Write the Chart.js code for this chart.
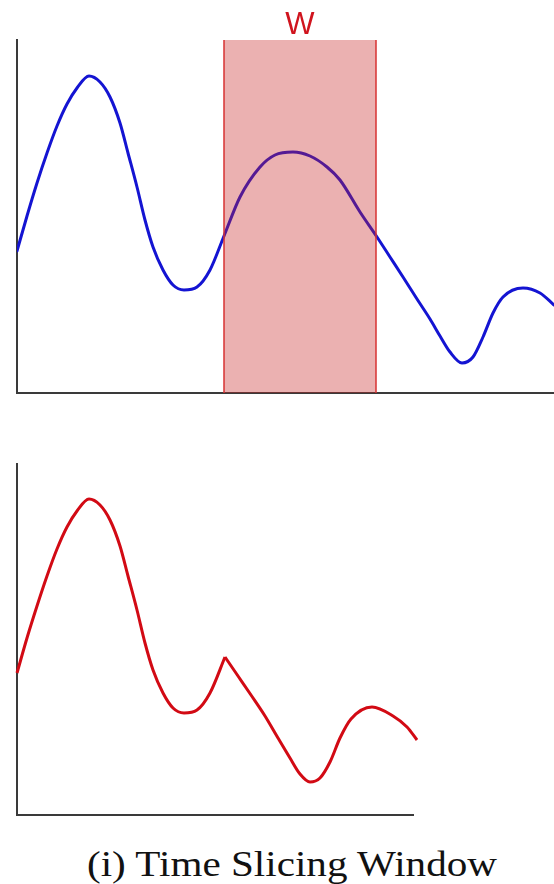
<!DOCTYPE html>
<html>
<head>
<meta charset="utf-8">
<script src="https://cdn.jsdelivr.net/npm/chart.js@4/dist/chart.umd.min.js"></script>
<style>
  html, body { margin: 0; padding: 0; background: #fff; }
  #wrap { position: relative; width: 554px; height: 884px; overflow: hidden; }
  #topBox { position: absolute; left: 0; top: 0; width: 554px; height: 400px; }
  #botBox { position: absolute; left: 0; top: 424px; width: 554px; height: 400px; }
  #caption { position: absolute; left: 87px; top: 847px; font-family: "Liberation Serif", serif;
             font-size: 35px; line-height: 35px; color: #111; white-space: nowrap;
             transform-origin: 0 0; display: inline-block; }
</style>
</head>
<body>
<div id="wrap">
  <div id="topBox"><canvas id="topChart" width="554" height="400"></canvas></div>
  <div id="botBox"><canvas id="botChart" width="554" height="400"></canvas></div>
  <span id="caption">(i) Time Slicing Window</span>
</div>
<script>
// ---- data ----
// original series (time, value)
const originalTime  = [0, 10, 20, 30, 40, 50, 60, 72, 83, 93, 103, 111, 120, 128, 136, 146, 156, 167, 180, 193, 207, 223, 243, 258, 276, 293, 310, 323, 343, 360, 373, 386, 400, 413, 423, 433, 445, 456, 466, 476, 486, 506, 523, 537];
const originalValue = [142, 177, 210, 240, 267, 289, 305, 317, 311, 296, 270, 240, 206, 173, 146, 123, 108, 103, 106, 123, 157, 196, 226, 238, 241, 237, 226, 213, 181, 156, 136, 116, 94, 74, 57, 41, 30, 36, 56, 80, 96, 105, 100, 88];
// slicing window
const windowStart = 207;
const windowEnd = 359;
const windowLabel = "W";
// sliced series: part before the cut and part after the cut
const slicedLeftTime   = [0, 10, 20, 30, 40, 50, 60, 72, 83, 93, 103, 111, 120, 128, 136, 146, 156, 167, 180, 193, 208];
const slicedLeftValue  = [142, 177, 209, 239, 266, 288, 304, 316, 310, 295, 269, 239, 205, 172, 145, 122, 107, 102, 105, 122, 158];
const slicedRightTime  = [208, 221, 234, 248, 261, 273, 283, 293, 303, 313, 323, 334, 355, 376, 390, 400];
const slicedRightValue = [158, 139, 120, 99, 77, 57, 41, 33, 37, 53, 77, 96, 108, 99, 88, 75];
// axis ranges
const topXMax = 537, topYMax = 353;
const botXMax = 396, botYMax = 351;
const captionText = "(i) Time Slicing Window";

const pts = (xs, ys) => xs.map((x, i) => ({ x: x, y: ys[i] }));

const axisColor = '#3a3a3a';
function axes(xMax, yMax) {
  const common = {
    type: 'linear', display: true,
    ticks: { display: false },
    grid: { display: false, drawTicks: false },
    border: { display: true, color: axisColor, width: 2 }
  };
  return {
    x: Object.assign({}, common, { min: 0, max: xMax }),
    y: Object.assign({}, common, { min: 0, max: yMax })
  };
}

const windowLabelPlugin = {
  id: 'windowLabel',
  afterDraw(chart) {
    const xs = chart.scales.x;
    const cx = (xs.getPixelForValue(windowStart) + xs.getPixelForValue(windowEnd)) / 2;
    const ctx = chart.ctx;
    ctx.save();
    ctx.fillStyle = 'rgb(208,20,30)';
    ctx.font = '31px "Liberation Sans", Arial, sans-serif';
    ctx.textAlign = 'center';
    ctx.textBaseline = 'alphabetic';
    ctx.fillText(windowLabel, cx, chart.chartArea.top - 6);
    ctx.restore();
  }
};

const baseOpts = {
  responsive: false,
  animation: false,
  plugins: { legend: { display: false }, tooltip: { enabled: false }, title: { display: false } },
  elements: { point: { radius: 0 } }
};

new Chart(document.getElementById('topChart'), {
  type: 'line',
  data: {
    datasets: [
      { // window edges (on top)
        data: pts([windowStart, windowStart], [0, topYMax]),
        borderColor: 'rgba(215,50,50,0.75)', borderWidth: 2, tension: 0, fill: false, order: 0
      },
      {
        data: pts([windowEnd, windowEnd], [0, topYMax]),
        borderColor: 'rgba(215,50,50,0.75)', borderWidth: 2, tension: 0, fill: false, order: 0
      },
      { // window fill
        data: pts([windowStart, windowEnd], [topYMax, topYMax]),
        borderWidth: 0, borderColor: 'rgba(0,0,0,0)', backgroundColor: 'rgba(200,40,40,0.36)',
        fill: 'origin', tension: 0, order: 1
      },
      { // original series
        data: pts(originalTime, originalValue),
        borderColor: 'rgb(20,20,210)', borderWidth: 3, cubicInterpolationMode: 'monotone',
        fill: false, order: 2, borderCapStyle: 'round'
      }
    ]
  },
  options: Object.assign({}, baseOpts, {
    layout: { padding: { left: 17, top: 40, right: 0, bottom: 7 } },
    scales: axes(topXMax, topYMax)
  }),
  plugins: [windowLabelPlugin]
});

new Chart(document.getElementById('botChart'), {
  type: 'line',
  data: {
    datasets: [
      {
        data: pts(slicedLeftTime, slicedLeftValue),
        borderColor: 'rgb(210,10,20)', borderWidth: 3, cubicInterpolationMode: 'monotone',
        fill: false, clip: false
      },
      {
        data: pts(slicedRightTime, slicedRightValue),
        borderColor: 'rgb(210,10,20)', borderWidth: 3, cubicInterpolationMode: 'monotone',
        fill: false, clip: false
      }
    ]
  },
  options: Object.assign({}, baseOpts, {
    layout: { padding: { left: 17, top: 40, right: 141, bottom: 9 } },
    scales: axes(botXMax, botYMax)
  })
});

const cap = document.getElementById('caption');
cap.textContent = captionText;
const w = cap.getBoundingClientRect().width;
cap.style.transform = 'scaleX(' + (410 / w) + ')';
</script>
</body>
</html>
